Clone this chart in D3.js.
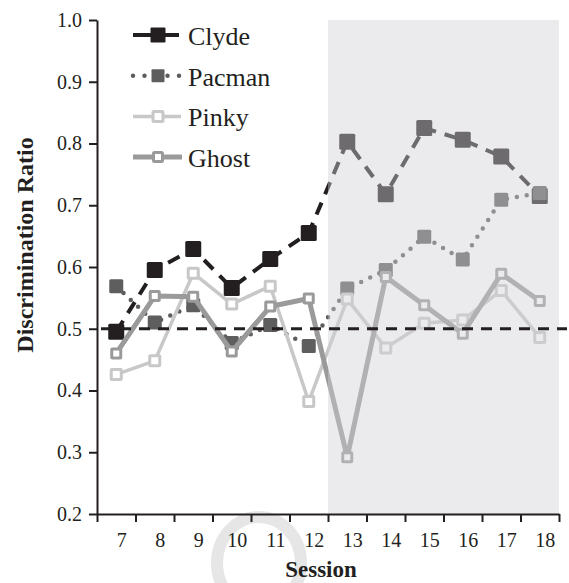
<!DOCTYPE html>
<html>
<head>
<meta charset="utf-8">
<script src="https://cdn.jsdelivr.net/npm/d3@7"></script>
</head>
<body style="margin:0">
<script>
'use strict';

// sessions on the x axis
const sessions = [7, 8, 9, 10, 11, 12, 13, 14, 15, 16, 17, 18]
const firstShaded = 13

// discrimination ratio per session
const clyde  = [0.495, 0.595, 0.629, 0.566, 0.613, 0.655, 0.803, 0.718, 0.825, 0.806, 0.779, 0.715]
const pacman = [0.569, 0.510, 0.538, 0.477, 0.506, 0.472, 0.565, 0.595, 0.649, 0.612, 0.709, 0.720]
const pinky  = [0.426, 0.448, 0.590, 0.540, 0.569, 0.382, 0.548, 0.469, 0.509, 0.514, 0.562, 0.486]
const ghost  = [0.460, 0.553, 0.552, 0.463, 0.536, 0.549, 0.292, 0.584, 0.538, 0.492, 0.589, 0.545]

const yTicks = [0.2, 0.3, 0.4, 0.5, 0.6, 0.7, 0.8, 0.9, 1.0]
const chance = 0.5

const m = {
  width: 569,
  height: 583,
  left: 97,
  right: 559,
  top: 20,
  bottom: 514
}

const ink = '#231f20'
const serif = '"Liberation Serif"'

// how each animal is drawn
const series = [
  { name: 'Clyde',  values: clyde,  color: ink,       width: 4,   dash: '13,9', cap: 'butt',  legendDash: null,     hollow: false, size: 16 },
  { name: 'Pacman', values: pacman, color: '#5e5e5e', width: 4.5, dash: '0,10', cap: 'round', legendDash: '0,11.5', hollow: false, size: 14 },
  { name: 'Pinky',  values: pinky,  color: '#c8c8c8', width: 3.5, dash: null,   cap: 'butt',  legendDash: null,     hollow: true,  size: 10 },
  { name: 'Ghost',  values: ghost,  color: '#9a9a9a', width: 5,   dash: null,   cap: 'butt',  legendDash: null,     hollow: true,  size: 9 }
]

const svg = d3.select('body')
  .append('svg')
  .attr('width', m.width)
  .attr('height', m.height)
  .style('display', 'block')

// faint ring at the bottom of the scan
svg.append('ellipse')
  .attr('cx', 259)
  .attr('cy', 563)
  .attr('rx', 42)
  .attr('ry', 46)
  .style('fill', 'none')
  .style('stroke', '#e6e6e6')
  .style('stroke-width', 12)

// scales
const x = d3.scaleLinear()
  .domain([sessions[0] - 0.5, sessions[sessions.length - 1] + 0.5])
  .range([m.left, m.right])

const y = d3.scaleLinear()
  .domain([yTicks[0], yTicks[yTicks.length - 1]])
  .range([m.bottom, m.top])

// draw each series: line then markers
series.forEach((s) => {
  const pts = sessions.map((d, i) => ({ session: d, value: s.values[i] }))
  const line = d3.line()
    .x((d) => x(d.session))
    .y((d) => y(d.value))

  svg.append('path')
    .datum(pts)
    .attr('d', line)
    .style('fill', 'none')
    .style('stroke', s.color)
    .style('stroke-width', s.width)
    .style('stroke-dasharray', s.dash)
    .style('stroke-linecap', s.cap)
    .style('stroke-linejoin', 'round')

  svg.selectAll(null)
    .data(pts)
    .enter()
    .append('rect')
      .attr('x', (d) => x(d.session) - s.size / 2)
      .attr('y', (d) => y(d.value) - s.size / 2)
      .attr('width', s.size)
      .attr('height', s.size)
      .attr('rx', s.hollow ? 0.5 : 1.5)
      .style('fill', s.hollow ? '#fff' : s.color)
      .style('stroke', s.hollow ? s.color : 'none')
      .style('stroke-width', s.hollow ? 3 : 0)
})

// translucent panel over the later sessions
svg.append('rect')
  .attr('x', x(firstShaded - 0.5))
  .attr('y', y(yTicks[yTicks.length - 1]))
  .attr('width', x(sessions[sessions.length - 1] + 0.5) - x(firstShaded - 0.5))
  .attr('height', y(yTicks[0]) - y(yTicks[yTicks.length - 1]))
  .style('fill', 'rgb(209,209,213)')
  .style('fill-opacity', 0.43)

// chance line
svg.append('line')
  .attr('x1', x(sessions[0] - 0.5) + 4)
  .attr('x2', m.width - 2)
  .attr('y1', y(chance))
  .attr('y2', y(chance))
  .style('stroke', ink)
  .style('stroke-width', 3)
  .style('stroke-dasharray', '11,8')

// x axis: boundary ticks
const xTickAxis = d3.axisBottom(x)
  .tickValues(d3.range(sessions[0] - 0.5, sessions[sessions.length - 1] + 1, 1))
  .tickFormat('')
  .tickSize(8)
  .tickSizeOuter(0)

svg.append('g')
  .attr('id', 'x-axis')
  .attr('transform', 'translate(0, ' + m.bottom + ')')
  .call(xTickAxis)

// x axis: session labels
const xLabelAxis = d3.axisBottom(x)
  .tickValues(sessions)
  .tickSize(0)
  .tickPadding(19)

svg.append('g')
  .attr('id', 'x-labels')
  .attr('transform', 'translate(5, ' + m.bottom + ')')
  .call(xLabelAxis)
  .call((g) => g.select('.domain').remove())

// y axis
const yAxis = d3.axisLeft(y)
  .tickValues(yTicks)
  .tickFormat(d3.format('.1f'))
  .tickSize(8)
  .tickSizeOuter(0)
  .tickPadding(7)

svg.append('g')
  .attr('id', 'y-axis')
  .attr('transform', 'translate(' + m.left + ', 0)')
  .call(yAxis)

svg.selectAll('#x-axis, #x-labels, #y-axis')
  .attr('font-family', serif)
  .attr('font-size', 20)

svg.selectAll('.domain, .tick line')
  .style('stroke', ink)
  .style('stroke-width', 2)

svg.selectAll('.tick text')
  .attr('font-family', serif)
  .attr('fill', ink)

// axis titles
svg.append('text')
  .attr('x', 321)
  .attr('y', 577)
  .attr('text-anchor', 'middle')
  .attr('font-family', serif)
  .attr('font-size', 23)
  .attr('font-weight', 'bold')
  .attr('fill', ink)
  .text('Session')

svg.append('text')
  .attr('transform', 'translate(33, 245)rotate(-90)')
  .attr('text-anchor', 'middle')
  .attr('font-family', serif)
  .attr('font-size', 24)
  .attr('font-weight', 'bold')
  .attr('fill', ink)
  .text('Discrimination Ratio')

// legend
const legend = svg.append('g')
  .attr('id', 'legend')
  .attr('transform', 'translate(133, 35)')

series.forEach((s, i) => {
  const row = legend.append('g')
    .attr('transform', 'translate(0, ' + (i * 40.7) + ')')

  row.append('line')
    .attr('x1', 0)
    .attr('x2', s.legendDash ? 50 : 46 + i)
    .attr('y1', 0)
    .attr('y2', 0)
    .style('stroke', s.color)
    .style('stroke-width', s.width)
    .style('stroke-dasharray', s.legendDash)
    .style('stroke-linecap', s.legendDash ? 'round' : 'butt')

  const k = s.hollow ? s.size : s.size - 1
  row.append('rect')
    .attr('x', 25 - k / 2)
    .attr('y', -k / 2)
    .attr('width', k)
    .attr('height', k)
    .attr('rx', 1)
    .style('fill', s.hollow ? '#fff' : s.color)
    .style('stroke', s.hollow ? s.color : 'none')
    .style('stroke-width', s.hollow ? 3 : 0)

  row.append('text')
    .attr('x', 55)
    .attr('y', 10)
    .attr('font-family', serif)
    .attr('font-size', 26)
    .attr('fill', ink)
    .text(s.name)
})
</script>
</body>
</html>
